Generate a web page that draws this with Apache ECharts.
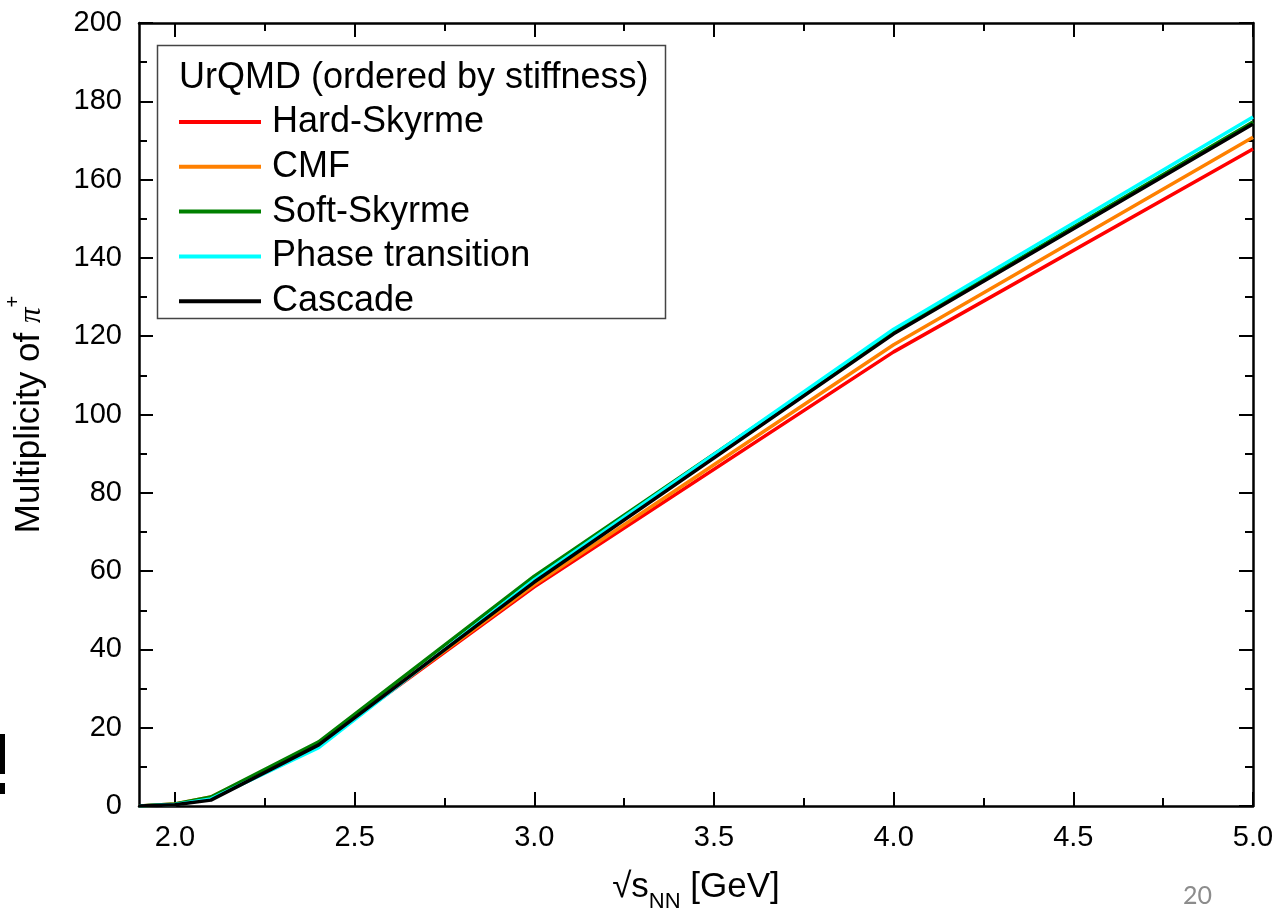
<!DOCTYPE html>
<html>
<head>
<meta charset="utf-8">
<title>Multiplicity of pi+ vs sqrt(s_NN)</title>
<script src="https://cdn.jsdelivr.net/npm/echarts@6/dist/echarts.min.js"></script>
<style>
  html, body { margin: 0; padding: 0; background: #fff; }
  #chart { width: 1288px; height: 917px; }
</style>
</head>
<body>
<div id="chart"></div>
<script>
// Collision energy sqrt(s_NN) in GeV
const energies = [1.9, 2.0, 2.1, 2.4, 3.0, 4.0, 5.0];

// pi+ multiplicity per equation of state (UrQMD)
const hardSkyrme      = [0, 0.4, 2.0, 15.8, 56.0, 116.0, 167.8];
const cmf             = [0, 0.5, 2.3, 15.9, 56.5, 117.8, 170.8];
const softSkyrme      = [0, 0.5, 2.3, 16.4, 58.7, 121.0, 174.7];
const phaseTransition = [0, 0.4, 1.8, 14.9, 57.8, 121.8, 176.0];
const cascade         = [0, 0.3, 1.5, 15.6, 57.2, 120.6, 174.2];

const seriesNames  = ['Hard-Skyrme', 'CMF', 'Soft-Skyrme', 'Phase transition', 'Cascade'];
const seriesColors = ['#ff0000', '#ff8000', '#008000', '#00ffff', '#000000'];
const seriesValues = [hardSkyrme, cmf, softSkyrme, phaseTransition, cascade];

// Axis ticks
const xMajorTicks = [2.0, 2.5, 3.0, 3.5, 4.0, 4.5, 5.0];
const xMinorTicks = [2.25, 2.75, 3.25, 3.75, 4.25, 4.75];
const xMin = 1.9, xMax = 5.0;
const yMin = 0, yMax = 200, yStep = 20;

const FONT = '"Liberation Sans", Arial, sans-serif';

const chart = echarts.init(document.getElementById('chart'));

function xAxisCfg(position, ticks, len, withLabels, withLine) {
  return {
    type: 'value', position: position, min: xMin, max: xMax,
    splitLine: { show: false },
    axisLine: { show: withLine, onZero: false, lineStyle: { color: '#000', width: 2.5 } },
    axisTick: { show: true, inside: true, length: len, customValues: ticks,
                lineStyle: { color: '#000', width: 2 } },
    axisLabel: withLabels
      ? { show: true, customValues: ticks, margin: 17, color: '#000', fontSize: 29,
          fontFamily: FONT, formatter: v => v.toFixed(1) }
      : { show: false }
  };
}

function yAxisCfg(position, withLabels) {
  return {
    type: 'value', position: position, min: yMin, max: yMax, interval: yStep,
    splitLine: { show: false },
    axisLine: { show: true, onZero: false, lineStyle: { color: '#000', width: 2.5 } },
    axisTick: { show: true, inside: true, length: 14, lineStyle: { color: '#000', width: 2 } },
    minorTick: { show: true, splitNumber: 2, length: 8, lineStyle: { color: '#000', width: 2 } },
    axisLabel: withLabels
      ? { show: true, margin: 17, color: '#000', fontSize: 29, fontFamily: FONT }
      : { show: false }
  };
}

const bottomAxis = xAxisCfg('bottom', xMajorTicks, 14, true, true);
bottomAxis.name = '{m|\u221As}{sub|NN}{m| [GeV]}';
bottomAxis.nameLocation = 'middle';
bottomAxis.nameGap = 64;
bottomAxis.nameTextStyle = {
  rich: {
    m:   { fontSize: 35, fontFamily: FONT, color: '#000', lineHeight: 40, verticalAlign: 'top' },
    sub: { fontSize: 22, fontFamily: FONT, color: '#000', lineHeight: 22,
           padding: [21, 0, 0, 0], verticalAlign: 'top' }
  }
};

const leftAxis = yAxisCfg('left', true);
leftAxis.name = '{m|Multiplicity of }{p|\u03C0}{s|+}';
leftAxis.nameLocation = 'middle';
leftAxis.nameGap = 92;
leftAxis.nameTextStyle = {
  rich: {
    m: { fontSize: 35, fontFamily: FONT, color: '#000', lineHeight: 44, verticalAlign: 'bottom' },
    p: { fontSize: 31, fontFamily: '"Liberation Serif", serif', fontStyle: 'italic', color: '#000',
         lineHeight: 44, verticalAlign: 'bottom' },
    s: { fontSize: 20, fontFamily: FONT, color: '#000', lineHeight: 20, verticalAlign: 'top' }
  }
};

const option = {
  animation: false,
  backgroundColor: '#ffffff',
  grid: { left: 139, right: 35, top: 23, bottom: 111, containLabel: false, outerBoundsMode: 'none' },
  xAxis: [
    bottomAxis,
    xAxisCfg('bottom', xMinorTicks, 8, false, false),
    xAxisCfg('top', xMajorTicks, 14, false, true),
    xAxisCfg('top', xMinorTicks, 8, false, false)
  ],
  yAxis: [ leftAxis, yAxisCfg('right', false) ],
  legend: {
    orient: 'vertical',
    left: 179, top: 104,
    padding: 0,
    icon: 'rect',
    itemWidth: 82, itemHeight: 4,
    itemGap: 8.8,
    selectedMode: false,
    textStyle: { fontSize: 36, fontFamily: FONT, color: '#000', lineHeight: 35.6,
                 padding: [0, 0, 0, 6] },
    data: seriesNames
  },
  graphic: [
    { type: 'rect', z: 0, shape: { x: 157.5, y: 45.5, width: 508, height: 273 },
      style: { fill: '#fff', stroke: '#444', lineWidth: 1.5 } },
    { type: 'text', z: 10, left: 179, top: 60,
      style: { text: 'UrQMD (ordered by stiffness)', fontSize: 36, fontFamily: FONT, fill: '#000' } },
    { type: 'text', z: 10, left: 1183, top: 883,
      style: { text: '20', fontSize: 25, fontFamily: 'Lato, "Open Sans", sans-serif', fill: '#8c8c8c' } },
    { type: 'rect', z: 10, shape: { x: 0, y: 734, width: 5, height: 40 }, style: { fill: '#000' } },
    { type: 'rect', z: 10, shape: { x: 0, y: 783, width: 5, height: 11 }, style: { fill: '#000' } }
  ],
  series: seriesNames.map((name, i) => ({
    name: name,
    type: 'line',
    xAxisIndex: 0, yAxisIndex: 0,
    showSymbol: false, symbol: 'none',
    smooth: false,
    clip: true,
    color: seriesColors[i],
    lineStyle: { color: seriesColors[i], width: 3.5 },
    z: 5 + i,
    data: energies.map((e, k) => [e, seriesValues[i][k]])
  }))
};

chart.setOption(option);
</script>
</body>
</html>
